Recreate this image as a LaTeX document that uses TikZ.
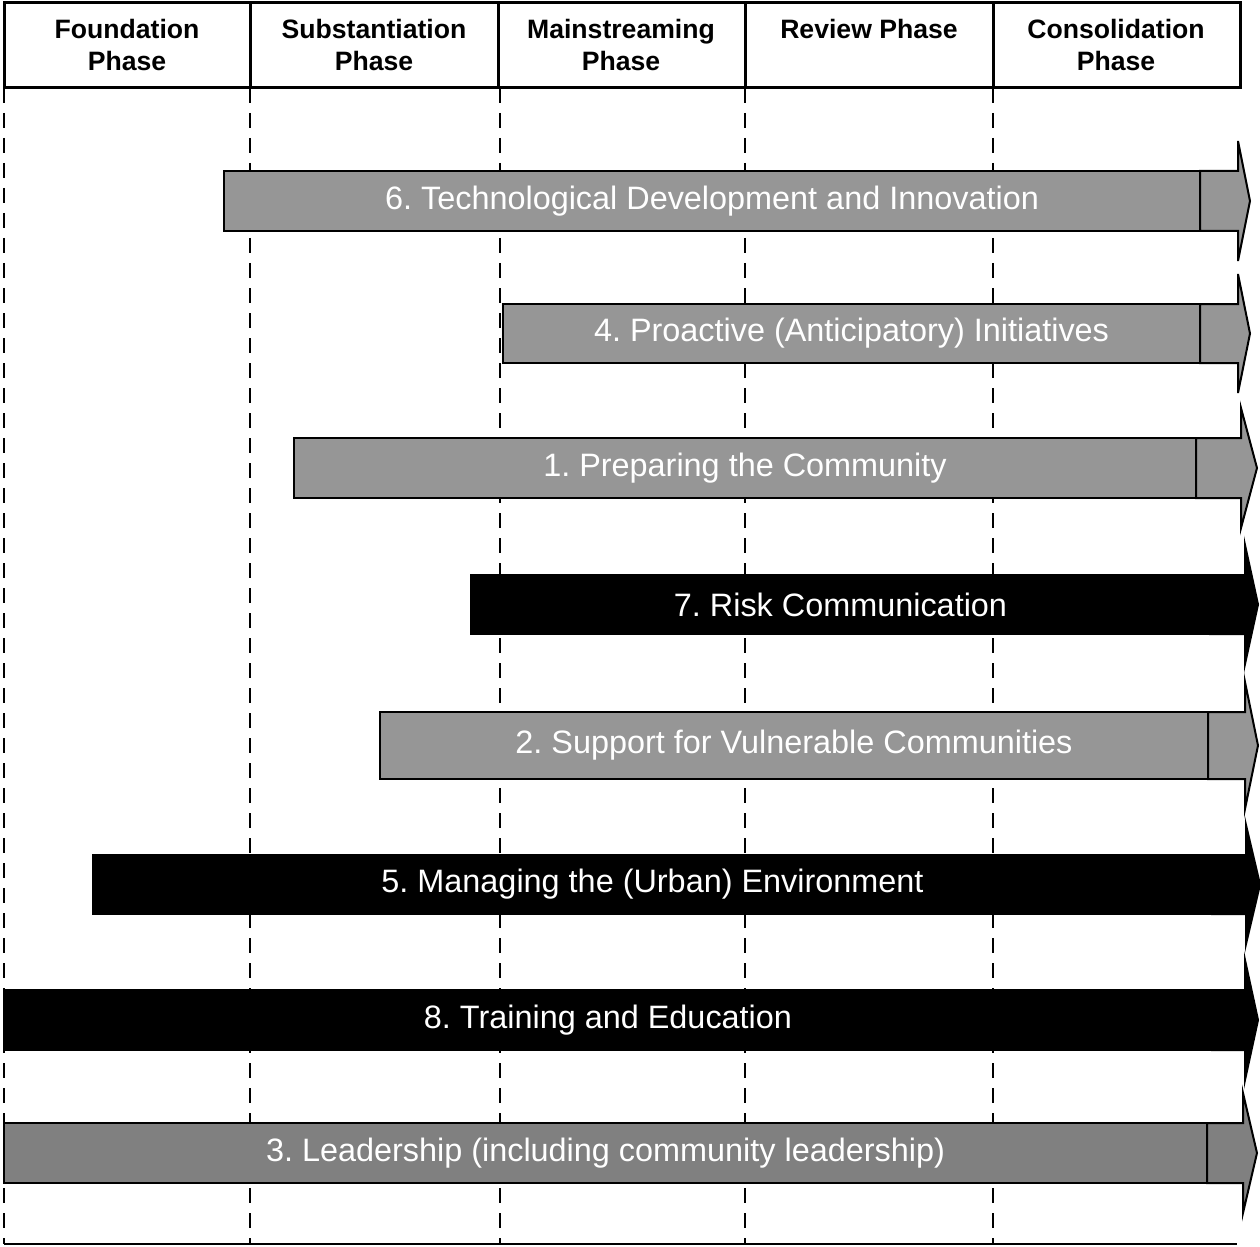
\documentclass[tikz,border=0pt]{standalone}
\usepackage{fontspec}
\setmainfont{Liberation Sans}
\frenchspacing
\definecolor{lgray}{HTML}{969696}
\definecolor{dgray}{HTML}{808080}
\tikzset{
  hcell/.style={draw=black, line width=1.5pt, inner sep=0pt, outer sep=0pt},
  htext/.style={anchor=base, align=center, inner sep=0pt, font=\bfseries\fontsize{13.3}{16}\selectfont},
  grid/.style={draw=black, line width=1pt, dash pattern=on 7.5pt off 5pt},
  grayarr/.style={draw=black, fill=lgray, line width=1pt, inner sep=0pt, outer sep=0pt, text=white, font=\fontsize{16.2}{20}\selectfont},
  darkarr/.style={grayarr, fill=dgray},
  blackarr/.style={draw=black, fill=black, line width=1pt, inner sep=0pt, outer sep=0pt, text=white, font=\fontsize{16.2}{20}\selectfont},
}
% #1 name, #2 style, #3 x0, #4 xdiv, #5 xbase, #6 xtip, #7 ytop, #8 ybot, #9 text
\newcommand\phasearr[9]{%
  \draw[#2] ({#4},{#7}) -- ({#5},{#7}) -- ({#5},{#7-30}) -- ({#6},{(#7+#8)/2}) -- ({#5},{#8+30}) -- ({#5},{#8}) -- ({#4},{#8}) -- cycle;
  \node[#2, minimum width={(#4-#3)*0.5pt}, minimum height={(#8-#7)*0.5pt}] (#1) at ({(#3+#4)/2},{(#7+#8)/2}) {};
  \node[#2, draw=none, fill=none] (#1t) at ({(#3+#4)/2},{(#7+#8)/2}) {#9};
}
\begin{document}
\begin{tikzpicture}[x=0.5pt, y=-0.5pt]
\useasboundingbox (0,0) rectangle (1260,1247);
% dashed phase separators
\foreach \xx/\nm in {4/d0,250/d1,500/d2,745/d3,993/d4}{
  \coordinate (\nm a) at (\xx,88);
  \coordinate (\nm b) at (\xx,1244);
  \draw[grid] (\nm a) -- (\nm b);
}
\coordinate (bl) at (4,1244);
\coordinate (br) at (1237,1244);
\draw[line width=0.75pt] (bl) -- (br);
% arrows
\phasearr{a6}{grayarr}{224}{1200}{1238}{1250}{171}{231}{6. Technological Development and Innovation}
\phasearr{a4}{grayarr}{503}{1200}{1238}{1250}{304}{363}{4. Proactive (Anticipatory) Initiatives}
\phasearr{a1}{grayarr}{294}{1196}{1241}{1257}{438}{498}{1. Preparing the Community}
\phasearr{a7}{blackarr}{471}{1210}{1245}{1258}{575}{634}{7. Risk Communication}
\phasearr{a2}{grayarr}{380}{1208}{1245}{1258}{712}{779}{2. Support for Vulnerable Communities}
\phasearr{a5}{blackarr}{93}{1212}{1246}{1260}{855}{914}{5. Managing the (Urban) Environment}
\phasearr{a8}{blackarr}{4}{1212}{1245}{1258}{990}{1050}{8. Training and Education}
\phasearr{a3}{darkarr}{4}{1207}{1243}{1257}{1123}{1183}{3. Leadership (including community leadership)}
% header
\foreach \xa/\xb/\nm in {4/250/h1,250/498/h2,498/745/h3,745/993/h4,993/1240/h5}{
  \node[hcell, minimum width={(\xb-\xa)*0.5pt}, minimum height={85*0.5pt}] (\nm) at ({(\xa+\xb)/2},45.5) {};
}
\node[htext] (t1) at (127,71) {Foundation\\Phase};
\node[htext] (t2) at (374,71) {Substantiation\\Phase};
\node[htext] (t3) at (621,71) {Mainstreaming\\Phase};
\node[htext] (t4) at (869,39) {Review Phase};
\node[htext] (t5) at (1116,71) {Consolidation\\Phase};
\end{tikzpicture}
\end{document}
